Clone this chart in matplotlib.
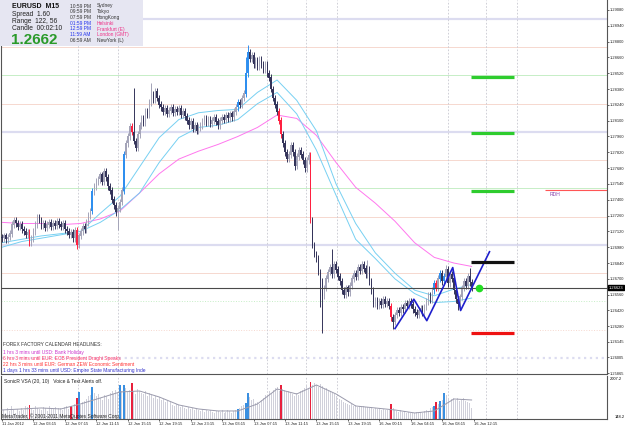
import numpy as np
import matplotlib.pyplot as plt
from matplotlib.patches import Rectangle
from matplotlib.transforms import blended_transform_factory

plt.rcParams['font.family'] = ['Liberation Sans', 'DejaVu Sans']

# EURUSD M15 closes, one per bar (opens taken as the previous close)
closes = [
    1.2706, 1.2708, 1.2705, 1.2707, 1.2710,
    1.2718, 1.2722, 1.2719,
    1.2716, 1.2718, 1.2714, 1.2712,
    1.2709, 1.2711, 1.2702, 1.2706,
    1.2712, 1.2718, 1.2724, 1.2722,
    1.2717, 1.2719, 1.2715, 1.2718, 1.2720, 1.2716, 1.2719, 1.2717, 1.2721, 1.2718, 1.2716, 1.2719, 1.2714, 1.2712,
    1.2709, 1.2711, 1.2706, 1.2713, 1.2700, 1.2708,
    1.2712, 1.2716, 1.2714, 1.2720, 1.2726, 1.2730,
    1.2747, 1.2752, 1.2756,
    1.2758, 1.2762, 1.2756, 1.2765, 1.2760, 1.2752, 1.2748,
    1.2740, 1.2735, 1.2729, 1.2732, 1.2738,
    1.2748, 1.2780,
    1.2790, 1.2796, 1.2805, 1.2800, 1.2792,
    1.2786, 1.2798, 1.2806,
    1.2812, 1.2808, 1.2818, 1.2815,
    1.2826, 1.2833, 1.2829, 1.2836, 1.2830, 1.2824,
    1.2822, 1.2818, 1.2821, 1.2816, 1.2819, 1.2822, 1.2817, 1.2820, 1.2818, 1.2821, 1.2815, 1.2818, 1.2814,
    1.2810, 1.2806, 1.2809, 1.2803, 1.2806, 1.2801, 1.2804,
    1.2806, 1.2809, 1.2812, 1.2808, 1.2811, 1.2807, 1.2810, 1.2813, 1.2809, 1.2806, 1.2810, 1.2813, 1.2811, 1.2815, 1.2812, 1.2816, 1.2813, 1.2818,
    1.2822, 1.2826, 1.2824, 1.2830, 1.2834,
    1.2852, 1.2870,
    1.2865, 1.2868, 1.2860, 1.2863, 1.2858, 1.2864, 1.2860,
    1.2855, 1.2860, 1.2852, 1.2848,
    1.2838, 1.2830, 1.2824, 1.2818,
    1.2810, 1.2798, 1.2790,
    1.2782, 1.2776, 1.2780,
    1.2788, 1.2782, 1.2770, 1.2778, 1.2784,
    1.2780, 1.2775, 1.2768, 1.2775, 1.2779,
    1.2722,
    1.2700, 1.2692, 1.2688, 1.2676, 1.2668,
    1.2655, 1.2662, 1.2670,
    1.2676, 1.2680, 1.2674, 1.2683, 1.2678, 1.2672,
    1.2668, 1.2660, 1.2656, 1.2662, 1.2658, 1.2664,
    1.2670, 1.2675, 1.2672, 1.2680, 1.2677, 1.2683, 1.2679, 1.2674, 1.2678,
    1.2668, 1.2660,
    1.2648, 1.2651, 1.2646, 1.2650, 1.2647, 1.2652, 1.2648, 1.2650, 1.2646,
    1.2636, 1.2632,
    1.2638, 1.2642, 1.2640, 1.2645, 1.2643, 1.2648, 1.2646, 1.2650,
    1.2647, 1.2643, 1.2640, 1.2638, 1.2642, 1.2644, 1.2640, 1.2645,
    1.2650, 1.2655, 1.2652, 1.2660, 1.2666, 1.2662, 1.2670,
    1.2675, 1.2668, 1.2672, 1.2678, 1.2666, 1.2674, 1.2670,
    1.2660, 1.2652, 1.2648, 1.2654,
    1.2662, 1.2668, 1.2664, 1.2672, 1.2667, 1.2662,
]
first_open = 1.2707
high_spikes = {67: 1.2839, 76: 1.2843, 124: 1.2866, 125: 1.2877, 168: 1.2696,
               186: 1.2687, 226: 1.2682, 238: 1.2680}
low_spikes = {14: 1.2699, 38: 1.2696, 59: 1.2713, 149: 1.2766, 162: 1.2645,
              163: 1.2622, 199: 1.2626, 232: 1.2642}
red_bars = [14, 38, 66, 141, 142, 157, 198, 221]
blue_bars = [46, 62, 120, 124, 125, 220, 223, 225]

# moving averages, sampled every 10 bars
ma_idx = [0, 10, 20, 30, 40, 50, 60, 70, 80, 90, 100, 110, 120, 130, 140, 150,
          160, 170, 180, 190, 200, 210, 220, 230, 239]
ma_fast = [1.2702, 1.2705, 1.2708, 1.2710, 1.2712, 1.2728, 1.2743, 1.2769, 1.2795,
           1.2811, 1.2817, 1.2819, 1.2820, 1.2835, 1.2846, 1.2828, 1.2801, 1.2754,
           1.2719, 1.2693, 1.2675, 1.2660, 1.2655, 1.2661, 1.2665]
ma_slow = [1.2698, 1.2703, 1.2706, 1.2709, 1.2712, 1.2720, 1.2731, 1.2746, 1.2773,
           1.2795, 1.2804, 1.2806, 1.2811, 1.2825, 1.2835, 1.2816, 1.2784, 1.2744,
           1.2705, 1.2688, 1.2670, 1.2657, 1.2649, 1.2650, 1.2653]
ma_long = [1.2720, 1.2719, 1.2719, 1.2718, 1.2719, 1.2723, 1.2730, 1.2746, 1.2763,
           1.2776, 1.2783, 1.2789, 1.2796, 1.2804, 1.2815, 1.2812, 1.2797, 1.2773,
           1.2751, 1.2737, 1.2721, 1.2702, 1.2689, 1.2684, 1.2681]

# zigzag and projection levels
zz_idx = [200, 209.6, 216.2, 229.4, 233.4, 248.1]
zz_price = [1.2626, 1.2652, 1.2633, 1.2680, 1.2642, 1.2694]
target_prices = [1.2849, 1.2799, 1.2748, 1.2685, 1.2622]
target_colors = ['#2ecc2e', '#2ecc2e', '#2ecc2e', '#111111', '#ee1111']
bid = 1.26623
rdh = 1.27487

# round-number levels
levels = [1.2600, 1.2625, 1.2650, 1.2675, 1.2700, 1.2725, 1.2750, 1.2775,
          1.2800, 1.2825, 1.2850, 1.2875, 1.2900]

# SonicR VSA volume
volume = [
    420, 510, 380, 610, 450, 700, 520, 390, 560, 480,
    620, 530, 700, 640, 760, 580, 520, 690, 600, 560,
    540, 660, 590, 480, 720, 610, 550, 680, 500, 630,
    590, 520, 640, 700, 580, 710, 660, 820, 1080, 1360,
    760, 880, 940, 1020, 1150, 1240, 1590, 1300, 1180, 1250,
    1100, 980, 1240, 1160, 1020, 1300, 1380, 1250, 1450, 1320,
    1680, 1400, 1680, 1520, 1350, 1460, 1780, 1390, 1280, 1500,
    1420, 1330, 1250, 1380, 1150, 1300, 1220, 1080, 1180, 1040,
    1120, 980, 1050, 900, 940, 820, 880, 760, 700, 820,
    740, 660, 700, 620, 580, 640, 560, 600, 520, 580,
    540, 480, 560, 420, 500, 460, 520, 440, 400, 480,
    460, 420, 500, 380, 440, 520, 460, 400, 480, 540,
    570, 620, 700, 760, 850, 1310, 1120, 980, 1040, 860,
    900, 820, 980, 1100, 1240, 1180, 1380, 1300, 1460, 1520,
    1600, 1420, 1690, 1480, 1450, 1350, 1420, 1300, 1250, 1180,
    1300, 1220, 1380, 1450, 1560, 1620, 1500, 1820, 1700, 1760,
    1680, 1590, 1720, 1640, 1500, 1560, 1420, 1380, 1300, 1250,
    1180, 1100, 1020, 980, 900, 860, 820, 760, 800, 720,
    760, 680, 720, 660, 700, 640, 680, 600, 640, 580,
    620, 560, 600, 520, 580, 540, 500, 560, 800, 620,
    520, 480, 440, 500, 420, 460, 380, 420, 360, 400,
    380, 420, 360, 440, 400, 460, 520, 480, 600, 640,
    710, 890, 820, 940, 1000, 1310, 1200, 1080, 1140, 1020,
    1100, 980, 1060, 940, 1000, 1080, 960, 900, 860, 620,
]
vol_red = [14, 35, 38, 66, 142, 157, 198, 221]
vol_blue = [39, 46, 60, 62, 120, 124, 125, 220, 223, 225]
vol_ma = [520, 567, 613, 567, 799, 1078, 1357, 1404, 1125, 753, 567, 474, 474,
          799, 1497, 1264, 1683, 1264, 706, 613, 520, 381, 474, 1032, 985]

price_ticks = ['1.29080', '1.28940', '1.28800', '1.28660', '1.28520', '1.28380',
               '1.28240', '1.28100', '1.27960', '1.27820', '1.27680', '1.27540',
               '1.27400', '1.27260', '1.27120', '1.26980', '1.26840', '1.26700',
               '1.26560', '1.26420', '1.26280', '1.26145', '1.26005', '1.25865']
time_ticks = ['11 Jan 2012', '12 Jan 03:15', '12 Jan 07:15', '12 Jan 11:15',
              '12 Jan 15:15', '12 Jan 19:15', '12 Jan 23:15', '13 Jan 03:15',
              '13 Jan 07:15', '13 Jan 11:15', '13 Jan 15:15', '13 Jan 19:15',
              '16 Jan 00:15', '16 Jan 04:15', '16 Jan 08:15', '16 Jan 12:15']
separators = [38.7, 59.0, 134.9, 154.7, 170.5, 227.0, 246.3, 262.1]

W, H = 625, 429
fig = plt.figure(figsize=(W / 100, H / 100), dpi=100)
fig.patch.set_facecolor('white')


def fx(px):
    return px / W


def fy(py):
    return 1 - py / H


ax = fig.add_axes([fx(1), fy(374), fx(607) - fx(1), fy(0) - fy(374)])
axv = fig.add_axes([fx(1), fy(419), fx(607) - fx(1), fy(376) - fy(419)])
xlim = (-0.5, 307.9)
tick_fs = 2.9

# --- price panel ---
n = len(closes)
idx = np.arange(n)
c = np.array(closes)
o = np.concatenate([[first_open], c[:-1]])
hi = np.maximum(o, c) + 0.0003
lo = np.minimum(o, c) - 0.0003
for k, v in high_spikes.items():
    hi[k] = v
for k, v in low_spikes.items():
    lo[k] = v

cols = np.where(c >= o, '#a4a4b8', '#34345a').astype(object)
widths = np.full(n, 0.75)
for k in red_bars:
    cols[k] = '#ff2040'
    widths[k] = 0.95
for k in blue_bars:
    cols[k] = '#2f8fef'
    widths[k] = 0.95

for lv in levels:
    frac = round((lv * 10000) % 100)
    if frac == 0:
        col, lw = '#dcdcf0', 1.6
    elif frac == 50:
        col, lw = '#c6eec6', 0.7
    else:
        col, lw = '#f6d8cf', 0.7
    ls = ':' if lv <= 1.2650 else '-'
    ax.axhline(lv, color=col, lw=lw, ls=ls, zorder=1)

for s in separators:
    ax.axvline(s, color='#c8c8d0', lw=0.6, ls=(0, (2, 2)), zorder=1)
    axv.axvline(s, color='#c8c8d0', lw=0.6, ls=(0, (2, 2)), zorder=1)

ax.plot(ma_idx, ma_long, color='#ff77ee', lw=0.7, zorder=2)
ax.plot(ma_idx, ma_slow, color='#77d0f2', lw=0.7, zorder=2)
ax.plot(ma_idx, ma_fast, color='#77d0f2', lw=0.7, zorder=2)

ax.vlines(idx, lo, hi, colors=list(cols), lw=0.7, zorder=3)
ax.bar(idx, np.abs(c - o) + 0.00004, bottom=np.minimum(o, c), width=widths,
       color=list(cols), zorder=3)

ax.axhline(bid, color='#4a4a4a', lw=0.8, zorder=4)
ax.plot(zz_idx, zz_price, color='#1f1fcc', lw=1.2, zorder=5)
for p, col in zip(target_prices, target_colors):
    ax.hlines(p, 238.5, 260.8, color=col, lw=2.3, zorder=5)
ax.plot([243], [bid], 'o', color='#22dd22', ms=4.5, zorder=6)
ax.hlines(rdh, 276.5, xlim[1], color='#ff5555', lw=0.8, zorder=4)
ax.text(278.5, rdh - 0.0002, 'RDH', color='#8844aa', fontsize=3.6, va='top')

ax.set_xlim(*xlim)
ax.set_ylim(1.25858, 1.29168)
ax.yaxis.tick_right()
ax.set_yticks([float(t) for t in price_ticks])
ax.set_yticklabels(price_ticks)
ax.tick_params(axis='y', labelsize=tick_fs, length=1.5, width=0.5, pad=0.8, colors='#222222')
ax.set_xticks([])
ax.spines['top'].set_visible(False)
for side in ['left', 'right', 'bottom']:
    ax.spines[side].set_color('#555555')
    ax.spines[side].set_linewidth(0.8)

tr = blended_transform_factory(ax.transAxes, ax.transData)
ax.text(1.003, bid, '1.26623', transform=tr, color='white', fontsize=tick_fs,
        va='center', ha='left',
        bbox=dict(boxstyle='square,pad=0.12', fc='black', ec='black'))

# --- volume panel ---
vol = np.array(volume, dtype=float)
vcols = ['#d0d0da'] * n
vw = np.full(n, 0.5)
for k in vol_red:
    vcols[k] = '#e8203c'
    vw[k] = 0.95
for k in vol_blue:
    vcols[k] = '#3a8fe0'
    vw[k] = 0.95
axv.bar(idx, vol, width=vw, color=vcols, zorder=2)
axv.plot(ma_idx, vol_ma, color='#9a9aac', lw=0.7, zorder=3)
axv.set_xlim(*xlim)
axv.set_ylim(100, 2101)
axv.set_yticks([])
axv.set_xticks(np.arange(len(time_ticks)) * 16)
axv.set_xticklabels(time_ticks, ha='left')
axv.tick_params(axis='x', labelsize=tick_fs, length=1.5, width=0.5, pad=1.0, colors='#222222')
axv.spines['top'].set_visible(False)
for side in ['left', 'right', 'bottom']:
    axv.spines[side].set_color('#555555')
    axv.spines[side].set_linewidth(0.8)
axv.text(1.004, 0.92, '2007.2', transform=axv.transAxes, fontsize=tick_fs, va='center')
axv.text(1.012, 0.05, '148.2', transform=axv.transAxes, fontsize=tick_fs, va='center')
axv.text(0.005, 0.88, 'SonicR VSA (20, 10)   Voice & Text Alerts off.',
         transform=axv.transAxes, fontsize=3.5, color='#222222', va='center')
axv.text(0.002, 0.06, 'MetaTrader, \u00a9 2001-2011 MetaQuotes Software Corp.',
         transform=axv.transAxes, fontsize=3.5, color='#222222', va='center')

# --- info box ---
fig.patches.append(Rectangle((0, fy(46)), fx(143), 46 / H, transform=fig.transFigure,
                             fc='#e6e6f2', ec='none', zorder=10))


def ftxt(px, py, s, **kw):
    fig.text(fx(px), fy(py), s, va='center', zorder=11, **kw)


ftxt(12, 6, 'EURUSD  M15', fontsize=5, fontweight='bold', color='#111111')
ftxt(12, 14.5, 'Spread  1.60', fontsize=4.8, color='#222222')
ftxt(12, 21.5, 'Range  122, 56', fontsize=4.8, color='#222222')
ftxt(12, 28.5, 'Candle  00:02:10', fontsize=4.8, color='#222222')
ftxt(11, 39.5, '1.2662', fontsize=11, fontweight='bold', color='#2a9a2a')

sessions = [('10:59 PM', 'Sydney', '#333333', '#333333'),
            ('09:59 PM', 'Tokyo', '#333333', '#333333'),
            ('07:59 PM', 'HongKong', '#333333', '#333333'),
            ('01:59 PM', 'Helsinki', '#2233ee', '#ee3388'),
            ('12:59 PM', 'Frankfurt (E)', '#2233ee', '#ee3388'),
            ('11:59 AM', 'London (GMT)', '#2233ee', '#ee3388'),
            ('06:59 AM', 'NewYork (L)', '#333333', '#333333')]
for k, (t, city, tc, cc) in enumerate(sessions):
    yy = 6 + k * 5.75
    ftxt(70, yy, t, fontsize=3.5, color=tc)
    ftxt(97, yy, city, fontsize=3.5, color=cc)

# --- calendar headlines ---
headlines = [('FOREX FACTORY CALENDAR HEADLINES:', '#333333'),
             ('1 hrs 3 mins until USD: Bank Holiday', '#cc33cc'),
             ('6 hrs 3 mins until EUR: ECB President Draghi Speaks', '#ff3366'),
             ('22 hrs 3 mins until EUR: German ZEW Economic Sentiment', '#ff3333'),
             ('1 days 1 hrs 33 mins until USD: Empire State Manufacturing Inde', '#3333cc')]
for k, (s, col) in enumerate(headlines):
    ftxt(3, 345 + k * 6.2 + (1 if k else 0), s, fontsize=3.5, color=col)

fig.savefig('out.png', dpi=100)
